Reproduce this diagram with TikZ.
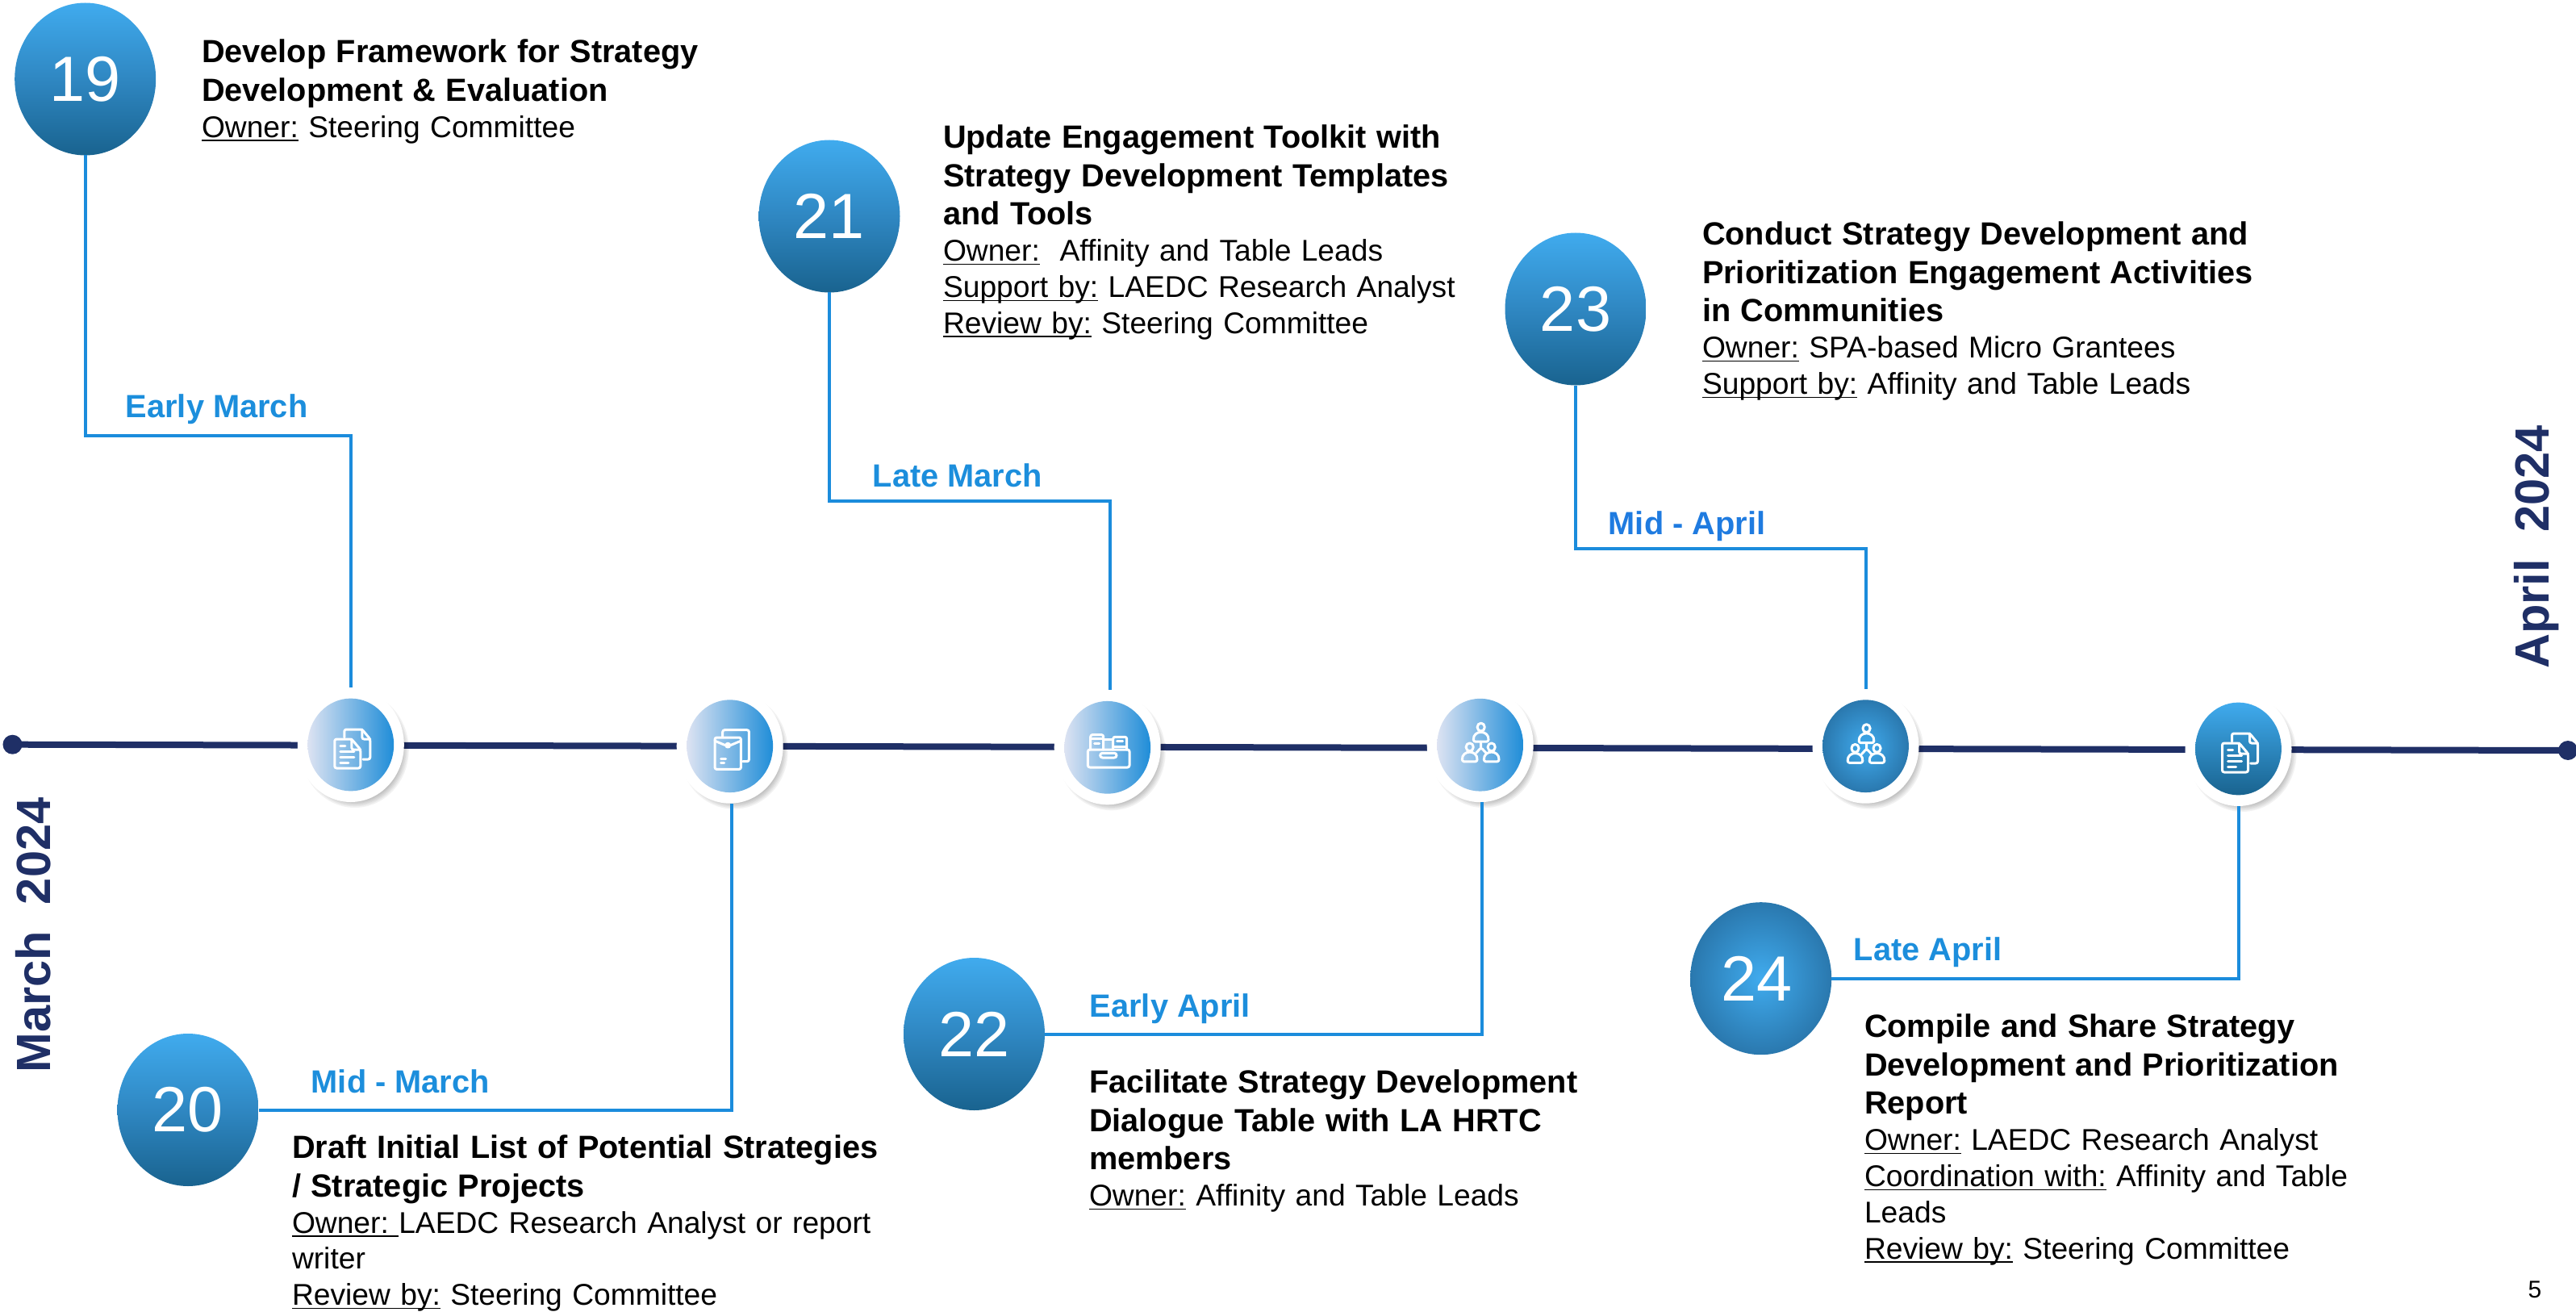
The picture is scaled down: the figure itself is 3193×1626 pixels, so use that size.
\documentclass[tikz,border=0pt]{standalone}
\usepackage{fontspec}
\setmainfont{Liberation Sans}
\usetikzlibrary{shapes.geometric}
\frenchspacing
\definecolor{navy}{HTML}{1F2F66}
\definecolor{linkblue}{HTML}{1B8CDC}
\definecolor{datecol}{HTML}{1C8EDC}
\definecolor{dateb}{HTML}{1F7BE0}
\newsavebox{\ulbox}
\newcommand{\ul}[1]{\leavevmode\sbox{\ulbox}{#1}\rlap{\rule[-1.15pt]{\wd\ulbox}{0.38pt}}#1}
\newcommand{\bl}[1]{\setlength{\baselineskip}{11.9pt}\fontsize{9.93}{11.9}\selectfont\textbf{#1}}
\newcommand{\nl}[1]{\setlength{\baselineskip}{11.2pt}\fontsize{9.3}{11.2}\selectfont #1}
\newcommand{\dnum}[1]{\raisebox{-0.5pt}{#1}}
\tikzset{
  bignum/.style={ellipse,inner sep=0pt,outer sep=0pt,minimum width=175pt*0.25,minimum height=189pt*0.25,
    top color=numtop,bottom color=numbot,middle color=nummid,text=white,font=\fontsize{19.8}{20}\selectfont},
  whitedisc/.style={ellipse,inner sep=0pt,outer sep=0pt,minimum width=33pt,minimum height=35.5pt,fill=white},
  disc/.style={ellipse,inner sep=0pt,outer sep=0pt,minimum width=26.7pt,minimum height=28.7pt},
  fadeh/.style={left color=hl,middle color=hm,right color=hr},
  faderad/.style={inner color=numtop,outer color=radout},
  fadev/.style={top color=numtop,middle color=nummid,bottom color=numbot},
  link/.style={draw=linkblue,line width=1pt},
  axisline/.style={draw=navy,line width=2pt},
  enddot/.style={circle,fill=navy,inner sep=0pt,outer sep=0pt,minimum size=6pt},
  txt/.style={anchor=north west,inner sep=0pt,outer sep=0pt,text width=210pt,align=left,font=\fontsize{9.3}{11.2}\selectfont},
  datelab/.style={anchor=base west,inner sep=0pt,text=datecol,font=\bfseries\fontsize{9.95}{11}\selectfont},
  month/.style={anchor=base,rotate=90,inner sep=0pt,text=navy,font=\bfseries\fontsize{14.9}{16}\selectfont},
  ic/.style={draw=white,line width=0.75pt,line join=round,line cap=round,rounded corners=0.6pt},
}
\definecolor{numtop}{HTML}{40ABEE}
\definecolor{nummid}{HTML}{2F87C2}
\definecolor{numbot}{HTML}{19638F}
\definecolor{radout}{HTML}{2A78AE}
\definecolor{hl}{HTML}{DDE3F2}
\definecolor{hm}{HTML}{A3BAE0}
\definecolor{hr}{HTML}{1F8DD8}
% shadow + white disc + coloured disc
\newcommand{\station}[4]{% name, x, y, fade style
  \foreach \k in {0,...,7}{
    \fill[black,opacity=0.05] (#2+5,#3+6) ellipse ({67-\k*1.7} and {72-\k*1.7});
  }
  \node[whitedisc] (#1o) at (#2,#3) {};
  \node[disc,#4] (#1) at (#2,#3) {};
}
\newcommand{\icondocs}{
  \draw[ic] (-20,-7) -- (1,-7) -- (12,6) -- (12,29) -- (-20,29) -- cycle;
  \draw[ic] (1,-7) -- (1,6) -- (12,6);
  \draw[ic] (-13,1) -- (-7,1) (-13,8) -- (4,8) (-13,15) -- (4,15) (-13,22) -- (-3,22);
  \draw[ic] (-8,-9) -- (-8,-19) -- (14,-19) -- (24,-7) -- (24,18) -- (15,18);
  \draw[ic] (14,-19) -- (14,-7) -- (24,-7);
}
\newcommand{\iconenv}{
  \draw[ic] (-18.7,-10.7) -- (13.7,-10.7) -- (13.7,28.7) -- (-18.7,28.7) -- cycle;
  \draw[ic] (-18.7,-6.5) .. controls (-10,-3) and (-6,-1) .. (-2.5,-1) .. controls (1,-1) and (5,-3) .. (13.7,-6.5);
  \draw[ic,fill=white,fill opacity=0.2] (-2.5,-1) circle (2.4);
  \draw[ic] (-9,-11) -- (-9,-20) -- (23.7,-20) -- (23.7,19) -- (16,19);
  \draw[ic] (-11,16) -- (-5,16) (-11,21) -- (-7,21);
}
\newcommand{\iconbox}{
  \draw[ic] (-24.3,2.7) -- (27.3,2.7) -- (27.3,24.7) -- (-24.3,24.7) -- cycle;
  \draw[ic,rounded corners=0.7pt] (-9,7) rectangle (11.3,12.7);
  \fill[white,opacity=0.25] (-5,-9.7) rectangle (7,2.7);
  \draw[ic] (-21,2.7) -- (-21,-15.7) -- (-5,-15.7) -- (-5,2.7);
  \draw[ic] (-21,-11.3) -- (-5,-11.3);
  \draw[ic] (-16,-4.7) -- (-10,-4.7);
  \draw[ic] (-5,-9.7) -- (7,-9.7);
  \draw[ic] (7,2.7) -- (7,-13) -- (24,-13) -- (24,2.7);
  \draw[ic] (7,-1.3) -- (24,-1.3);
  \draw[ic] (12,-8) -- (19,-8);
}
\newcommand{\person}[2]{% x, y of head centre
  \draw[ic] (#1,#2) circle (4.6 and 5);
  \draw[ic] (#1-9.2,#2+18) .. controls (#1-10,#2+3) and (#1+10,#2+3) .. (#1+9.2,#2+18) -- cycle;
}
\newcommand{\iconpeople}{
  \person{1}{-22}
  \person{-13}{2.7}
  \person{14}{2.7}
  \draw[ic] (1,-4) -- (1,3.3) (-5,10) -- (1,3.3) -- (7.5,10);
}
\begin{document}
\begin{tikzpicture}[x=0.25pt,y=-0.25pt]
\useasboundingbox (0,0) rectangle (3193,1626);
% timeline
\node[enddot] (startdot) at (15.5,922.7) {};
\node[enddot] (enddot) at (3183,930) {};
\draw[axisline] (startdot.center) -- (enddot.center);
% stations
\station{s1}{434.8}{923}{fadeh}
\station{s2}{904.7}{924.7}{fadeh}
\station{s3}{1372.7}{926.3}{fadeh}
\station{s4}{1834.7}{923.2}{fadeh}
\station{s5}{2312.5}{924.7}{faderad}
\station{s6}{2774.5}{928}{fadev}
\begin{scope}[shift={(434.8,923)}]\icondocs\end{scope}
\begin{scope}[shift={(904.7,924.7)}]\iconenv\end{scope}
\begin{scope}[shift={(1372.7,926.3)}]\iconbox\end{scope}
\begin{scope}[shift={(1834.7,923.2)}]\iconpeople\end{scope}
\begin{scope}[shift={(2312.5,924.7)}]\iconpeople\end{scope}
\begin{scope}[shift={(2774.5,928)}]\icondocs\end{scope}
% numbered discs
\node[bignum] (b19) at (105.7,98) {\dnum{19}};
\node[bignum] (b21) at (1028,268) {\dnum{21}};
\node[bignum] (b23) at (1953,383) {\dnum{23}};
\node[bignum] (b20) at (233,1375.5) {\dnum{20}};
\node[bignum] (b22) at (1207.5,1281.5) {\dnum{22}};
\node[bignum,faderad] (b24) at (2182.7,1212.7) {\hspace*{-2.8pt}\dnum{24}};
% connectors
\draw[link] (b19.south) -- (b19.south |- 0,540) -- (s1o.north |- 0,540) -- (s1o.north);
\draw[link] (b21.south) -- (b21.south |- 0,621) -- ([xshift=0.75pt]s3o.north |- 0,621) -- ([xshift=0.75pt]s3o.north);
\draw[link] (b23.south) -- (b23.south |- 0,680) -- (s5o.north |- 0,680) -- (s5o.north);
\draw[link] (b20.east) -- ([xshift=0.5pt]s2o.south |- b20.east) -- ([xshift=0.5pt]s2o.south);
\draw[link] (b22.east) -- ([xshift=0.5pt]s4o.south |- b22.east) -- ([xshift=0.5pt]s4o.south);
\draw[link] (b24.east) -- (s6o.south |- b24.east) -- (s6o.south);
% dates
\node[datelab] (d19) at (155,517) {Early March};
\node[datelab] (d21) at (1081,603) {Late March};
\node[datelab,text=dateb] (d23) at (1993,662) {Mid - April};
\node[datelab] (d20) at (385,1354) {Mid - March};
\node[datelab] (d22) at (1350,1260) {Early April};
\node[datelab] (d24) at (2297,1190) {Late April};
% text blocks
\node[txt] (t19) at (250,49) {\bl{Develop Framework for Strategy}\\\bl{Development \& Evaluation}\\\nl{\ul{Owner:} Steering Committee}};
\node[txt] (t21) at (1169,155) {\bl{Update Engagement Toolkit with}\\\bl{Strategy Development Templates}\\\bl{and Tools}\\\nl{\ul{Owner:}\ \ Affinity and Table Leads}\\\nl{\ul{Support by:} LAEDC Research Analyst}\\\nl{\ul{Review by:} Steering Committee}};
\node[txt] (t23) at (2110,275) {\bl{Conduct Strategy Development and}\\\bl{Prioritization Engagement Activities}\\\bl{in Communities}\\\nl{\ul{Owner:} SPA-based Micro Grantees}\\\nl{\ul{Support by:} Affinity and Table Leads}};
\node[txt] (t20) at (362,1407) {\bl{Draft Initial List of Potential Strategies}\\\bl{/ Strategic Projects}\\\nl{\ul{Owner:\ }LAEDC Research Analyst or report}\\\nl{writer}\\\nl{\ul{Review by:} Steering Committee}};
\node[txt] (t22) at (1350,1326) {\bl{Facilitate Strategy Development}\\\bl{Dialogue Table with LA HRTC}\\\bl{members}\\\nl{\ul{Owner:} Affinity and Table Leads}};
\node[txt] (t24) at (2311,1257) {\bl{Compile and Share Strategy}\\\bl{Development and Prioritization}\\\bl{Report}\\\nl{\ul{Owner:} LAEDC Research Analyst}\\\nl{\ul{Coordination with:} Affinity and Table}\\\nl{Leads}\\\nl{\ul{Review by:} Steering Committee}};
% months
\node[month] (m1) at (62.7,1159) {March\ \ 2024};
\node[month] (m2) at (3159,678) {April\ \ 2024};
\node[inner sep=0pt,font=\fontsize{7.5}{8}\selectfont] (page) at (3142,1598) {5};
\end{tikzpicture}
\end{document}
